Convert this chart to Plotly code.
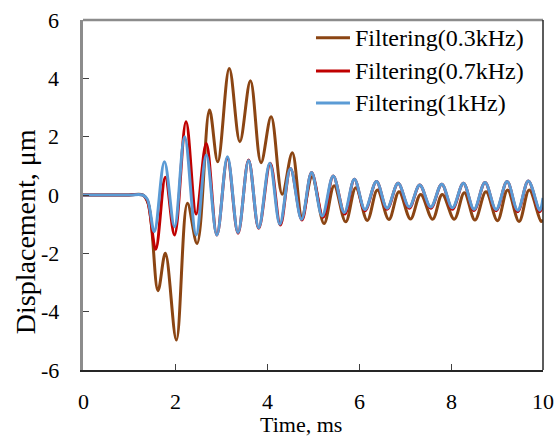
import plotly.graph_objects as go

# Filtering 0.3 kHz (brown) (time ms, displacement um)
t_03 = [0, 1.0, 1.3, 1.42, 1.63, 1.79, 2.03, 2.27, 2.48, 2.75, 2.93, 3.18, 3.41, 3.64, 3.87, 4.09,
        4.33, 4.55, 4.76, 4.98, 5.24, 5.46, 5.71, 5.93, 6.18, 6.40, 6.65, 6.87, 7.12, 7.34,
        7.60, 7.81, 8.07, 8.29, 8.52, 8.76, 9.01, 9.23, 9.48, 9.70, 9.96, 10.0]
d_03 = [0, 0, 0, -0.3, -3.28, -2.0, -4.97, -0.28, -1.66, 2.91, 1.14, 4.34, 1.83, 3.92, 1.11, 2.68,
        0.03, 1.45, -0.74, 0.63, -0.98, 0.32, -0.92, 0.25, -0.87, 0.17, -0.84, 0.11, -0.82, 0.02,
        -0.83, 0.02, -0.83, 0.08, -0.86, 0.11, -0.88, 0.17, -0.91, 0.17, -0.91, -0.85]

# Filtering 0.7 kHz (red)
t_07 = [0, 1.0, 1.3, 1.40, 1.58, 1.79, 1.99, 2.24, 2.46, 2.68, 2.91, 3.14, 3.37, 3.60, 3.82, 4.07,
        4.29, 4.51, 4.76, 4.97, 5.22, 5.44, 5.69, 5.90, 6.13, 6.38, 6.61, 6.85, 7.09, 7.32,
        7.56, 7.80, 8.03, 8.27, 8.50, 8.74, 8.98, 9.22, 9.45, 9.68, 9.93, 10.0]
d_07 = [0, 0, 0, -0.2, -1.86, 0.61, -1.37, 2.51, -0.65, 1.77, -1.37, 1.26, -1.31, 1.2, -1.14, 1.09,
        -1.03, 0.91, -0.86, 0.77, -0.76, 0.65, -0.65, 0.54, -0.54, 0.46, -0.49, 0.40, -0.45, 0.34,
        -0.45, 0.37, -0.49, 0.40, -0.53, 0.43, -0.54, 0.46, -0.57, 0.48, -0.57, -0.3]

# Filtering 1 kHz (blue)
t_1 = [0, 1.0, 1.3, 1.40, 1.55, 1.77, 1.99, 2.21, 2.46, 2.68, 2.91, 3.14, 3.37, 3.60, 3.82, 4.06,
       4.28, 4.51, 4.75, 4.97, 5.20, 5.44, 5.68, 5.90, 6.13, 6.38, 6.61, 6.85, 7.09, 7.32,
       7.56, 7.80, 8.03, 8.27, 8.50, 8.74, 8.98, 9.22, 9.45, 9.68, 9.93, 10.0]
d_1 = [0, 0, 0, -0.15, -1.26, 1.14, -1.09, 2.0, -1.37, 1.37, -1.37, 1.31, -1.29, 1.18, -1.12, 1.09,
       -1.0, 0.91, -0.83, 0.77, -0.72, 0.65, -0.6, 0.54, -0.5, 0.46, -0.45, 0.40, -0.41, 0.34,
       -0.41, 0.37, -0.44, 0.40, -0.49, 0.43, -0.5, 0.46, -0.52, 0.48, -0.52, -0.1]

series_names = ["Filtering(0.3kHz)", "Filtering(0.7kHz)", "Filtering(1kHz)"]
series_colors = ["#8B4513", "#C00000", "#5B9BD5"]

x_ticks = [0, 2, 4, 6, 8, 10]
y_ticks = [-6, -4, -2, 0, 2, 4, 6]
x_title = "Time, ms"
y_title = "Displacement, μm"

FONT = "Liberation Serif"

fig = go.Figure()
for t, d, name, color in zip([t_03, t_07, t_1], [d_03, d_07, d_1], series_names, series_colors):
    fig.add_trace(go.Scatter(
        x=t, y=d, name=name, mode="lines", showlegend=False,
        line=dict(color=color, width=3, shape="spline", smoothing=1.0),
    ))

annotations = []
shapes = []
# tick labels (serif text)
for v in y_ticks:
    annotations.append(dict(text=str(v), x=-0.047, xref="paper", y=v, yref="y",
                            xanchor="right", yanchor="middle", showarrow=False,
                            font=dict(family=FONT, size=22, color="black")))
for v in x_ticks:
    annotations.append(dict(text=str(v), x=v, xref="x", y=-0.091, yref="paper",
                            xanchor="center", yanchor="middle", showarrow=False,
                            font=dict(family=FONT, size=22, color="black")))
# axis titles
annotations.append(dict(text=x_title, x=0.474, xref="paper", y=-0.155, yref="paper",
                        xanchor="center", yanchor="middle", showarrow=False,
                        font=dict(family=FONT, size=22, color="black")))
annotations.append(dict(text=y_title, x=-0.126, xref="paper", y=0.394, yref="paper",
                        xanchor="center", yanchor="middle", showarrow=False, textangle=-90,
                        font=dict(family=FONT, size=28, color="black")))
# legend
legend_rows = [0.949, 0.854, 0.763]
for name, color, ry in zip(series_names, series_colors, legend_rows):
    shapes.append(dict(type="line", xref="paper", yref="paper", x0=0.5065, x1=0.5804,
                       y0=ry, y1=ry, line=dict(color=color, width=3)))
    annotations.append(dict(text=name, x=0.587, xref="paper", y=ry, yref="paper",
                            xanchor="left", yanchor="middle", showarrow=False,
                            font=dict(family=FONT, size=24, color="black")))
# frame: top (gray) and right (dark)
shapes.append(dict(type="line", xref="paper", yref="paper", x0=0, x1=1, y0=1, y1=1,
                   line=dict(color="#8c8c8c", width=2.5)))
shapes.append(dict(type="line", xref="paper", yref="paper", x0=1, x1=1, y0=0, y1=1,
                   line=dict(color="#262626", width=1.5)))

fig.update_layout(
    width=557, height=436,
    margin=dict(l=83, r=14, t=20, b=66, autoexpand=False),
    plot_bgcolor="white", paper_bgcolor="white",
    font=dict(family=FONT, size=22, color="black"),
    showlegend=False,
    annotations=annotations,
    shapes=shapes,
    xaxis=dict(
        range=[0, 10], tickvals=x_ticks, showticklabels=False,
        ticks="inside", ticklen=6, tickcolor="#404040",
        showline=True, linecolor="#262626", linewidth=1.5,
        showgrid=False, zeroline=False, automargin=False,
    ),
    yaxis=dict(
        range=[-6, 6], tickvals=y_ticks, showticklabels=False,
        ticks="inside", ticklen=6, tickcolor="#404040",
        showline=True, linecolor="#8c8c8c", linewidth=2.5,
        showgrid=False, zeroline=False, automargin=False,
    ),
)

fig.write_html("out.html")
